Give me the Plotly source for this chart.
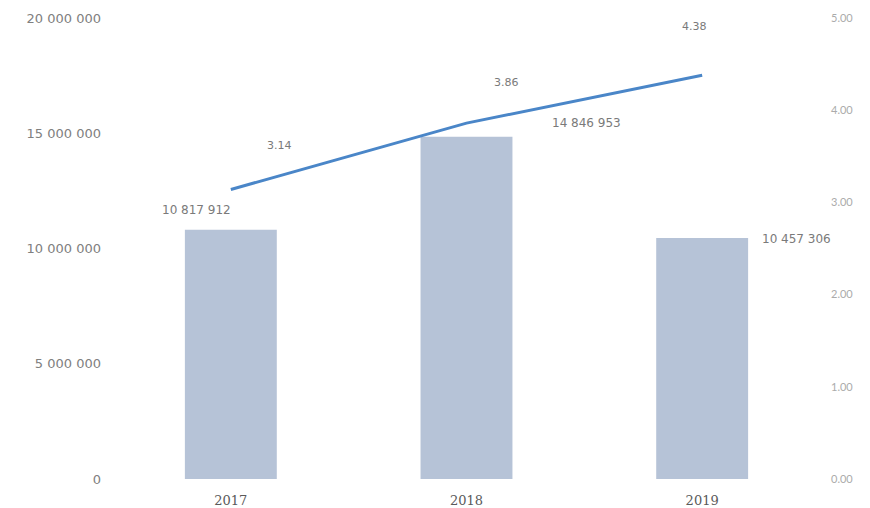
import plotly.graph_objects as go

years = ['2017', '2018', '2019']
bar_values = [10817912, 14846953, 10457306]
bar_labels = ['10 817 912', '14 846 953', '10 457 306']
line_values = [3.14, 3.86, 4.38]
line_labels = ['3.14', '3.86', '4.38']
left_ticks = [0, 5000000, 10000000, 15000000, 20000000]
left_tick_text = ['0', '5 000 000', '10 000 000', '15 000 000', '20 000 000']
right_ticks = [0, 1, 2, 3, 4, 5]
right_tick_text = ['0.00', '1.00', '2.00', '3.00', '4.00', '5.00']

font_main = 'Lato, Liberation Sans, sans-serif'
font_num = 'DejaVu Sans, sans-serif'
txt_col = '#7a7a7a'

fig = go.Figure()
fig.add_trace(go.Bar(x=years, y=bar_values, width=0.39,
    marker=dict(color='#b6c3d7', line=dict(width=0)), showlegend=False, hoverinfo='skip'))
fig.add_trace(go.Scatter(x=years, y=line_values, mode='lines', yaxis='y2',
    line=dict(color='#4a86c8', width=3), showlegend=False, hoverinfo='skip'))

# value labels, offsets follow the original placement
bar_shift = [(-34, 20), (120, 14), (94, -1)]
line_shift = [(49, 44), (40, 41), (-8, 49)]
for i in range(len(years)):
    fig.add_annotation(x=i, y=bar_values[i], xref='x', yref='y', text=bar_labels[i],
        showarrow=False, xshift=bar_shift[i][0], yshift=bar_shift[i][1],
        font=dict(family=font_num, size=12, color=txt_col))
    fig.add_annotation(x=i, y=line_values[i], xref='x', yref='y2', text=line_labels[i],
        showarrow=False, xshift=line_shift[i][0], yshift=line_shift[i][1],
        font=dict(family=font_num, size=11, color=txt_col))

fig.update_layout(
    width=870, height=508, plot_bgcolor='white', paper_bgcolor='white',
    margin=dict(l=105, r=58, t=10, b=37),
    font=dict(family=font_main, color=txt_col, size=10),
    xaxis=dict(type='category', range=[-0.5, 2.5], showgrid=False, showline=False, zeroline=False,
        ticks='', ticklabelstandoff=12, automargin=False,
        tickfont=dict(family='DejaVu Serif, serif', size=13, color='#5a5a5a')),
    yaxis=dict(range=[0, 20000000], tickvals=left_ticks, ticktext=left_tick_text,
        showgrid=False, zeroline=False, showline=False, ticks='', ticklabelstandoff=11,
        automargin=False, tickfont=dict(family=font_num, size=13, color='#808080')),
    yaxis2=dict(range=[0, 5], tickvals=right_ticks, ticktext=right_tick_text, overlaying='y',
        side='right', showgrid=False, zeroline=False, showline=False, ticks='',
        ticklabelstandoff=10, automargin=False,
        tickfont=dict(family=font_main, size=11, color='#ababab')),
)
fig.write_html('out.html')
